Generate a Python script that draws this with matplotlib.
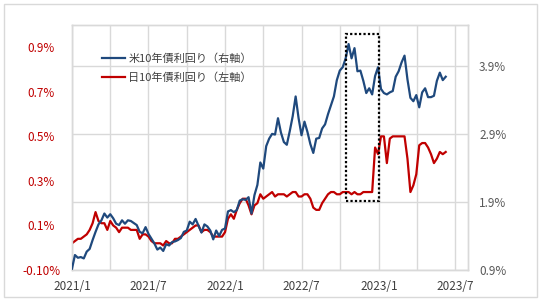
import matplotlib
matplotlib.use('Agg')
import matplotlib.pyplot as plt
import matplotlib.dates as mdates
from matplotlib.patches import Rectangle
from matplotlib.lines import Line2D
from matplotlib.transforms import blended_transform_factory
from matplotlib.ticker import FixedLocator, FixedFormatter, FuncFormatter
import pandas as pd

plt.rcParams['font.family'] = ['Noto Sans CJK JP', 'DejaVu Sans']

# ---- data (weekly, Fridays) ----
series_start = '2021-01-01'

us_2021 = [0.92, 1.12, 1.08, 1.09, 1.07, 1.17, 1.21, 1.34, 1.46, 1.57,
           1.63, 1.73, 1.67, 1.72, 1.66, 1.58, 1.56, 1.63, 1.58, 1.63,
           1.62, 1.59, 1.56, 1.46, 1.44, 1.53, 1.43, 1.36, 1.29, 1.20,
           1.23, 1.18, 1.28, 1.26, 1.31, 1.32, 1.34, 1.37, 1.46, 1.48,
           1.61, 1.57, 1.65, 1.55, 1.45, 1.57, 1.54, 1.48, 1.35, 1.48,
           1.40, 1.49, 1.51]
us_2022 = [1.76, 1.78, 1.75, 1.78, 1.92, 1.94, 1.93, 1.97, 1.73, 2.00,
           2.15, 2.48, 2.39, 2.72, 2.83, 2.90, 2.89, 3.13, 2.92, 2.78,
           2.74, 2.94, 3.16, 3.45, 3.13, 2.88, 3.08, 2.93, 2.75, 2.62,
           2.83, 2.84, 2.98, 3.04, 3.19, 3.32, 3.45, 3.69, 3.83, 3.88,
           4.01, 4.22, 4.01, 4.16, 3.82, 3.83, 3.68, 3.50, 3.57, 3.48,
           3.75, 3.88]
us_2023 = [3.56, 3.50, 3.48, 3.51, 3.53, 3.74, 3.82, 3.95, 4.05, 3.70,
           3.43, 3.38, 3.47, 3.29, 3.51, 3.57, 3.44, 3.44, 3.46, 3.68,
           3.80, 3.69, 3.74]

jp_2021 = [0.02, 0.03, 0.04, 0.04, 0.05, 0.06, 0.08, 0.11, 0.16, 0.12,
           0.11, 0.11, 0.08, 0.12, 0.10, 0.09, 0.07, 0.09, 0.09, 0.09,
           0.08, 0.08, 0.08, 0.04, 0.06, 0.06, 0.05, 0.03, 0.02, 0.02,
           0.02, 0.01, 0.03, 0.02, 0.02, 0.04, 0.04, 0.05, 0.06, 0.07,
           0.08, 0.09, 0.10, 0.10, 0.07, 0.08, 0.08, 0.07, 0.05, 0.05,
           0.05, 0.05, 0.07]
jp_2022 = [0.13, 0.15, 0.13, 0.17, 0.20, 0.22, 0.22, 0.19, 0.15, 0.19,
           0.20, 0.24, 0.22, 0.23, 0.24, 0.25, 0.23, 0.24, 0.24, 0.24,
           0.23, 0.24, 0.25, 0.25, 0.23, 0.23, 0.24, 0.24, 0.22, 0.18,
           0.17, 0.17, 0.20, 0.22, 0.24, 0.25, 0.25, 0.24, 0.24, 0.25,
           0.25, 0.25, 0.24, 0.25, 0.24, 0.24, 0.25, 0.25, 0.25, 0.25,
           0.45, 0.42]
jp_2023 = [0.50, 0.50, 0.38, 0.49, 0.50, 0.50, 0.50, 0.50, 0.50, 0.40,
           0.25, 0.28, 0.33, 0.46, 0.47, 0.47, 0.45, 0.42, 0.38, 0.40,
           0.43, 0.42, 0.43]

us_label = '米10年債利回り（右軸）'
jp_label = '日10年債利回り（左軸）'

left_ticks = [-0.1, 0.1, 0.3, 0.5, 0.7, 0.9]
left_ticklabels = ['-0.10%', '0.1%', '0.3%', '0.5%', '0.7%', '0.9%']
right_ticks = [0.9, 1.9, 2.9, 3.9]
right_ticklabels = ['0.9%', '1.9%', '2.9%', '3.9%']

x_min, x_max = '2021-01-01', '2023-08-01'
left_lim = (-0.1, 1.0)
right_lim = (0.9, 4.5)

# highlighted period (dotted box, right-axis units)
box_start, box_end = '2022-10-15', '2023-01-01'
box_low, box_high = 1.92, 4.37

# ---- build ----
us = us_2021 + us_2022 + us_2023
jp = jp_2021 + jp_2022 + jp_2023
us_dates = pd.date_range(series_start, periods=len(us), freq='W-FRI')
jp_dates = pd.date_range(series_start, periods=len(jp), freq='W-FRI')

blue = '#1F497D'
red = '#C00000'
grid_c = '#D9D9D9'

fig = plt.figure(figsize=(5.40, 3.01), dpi=100)
ax1 = fig.add_axes([72/540, 1-270/301, 396/540, 245/301])
ax2 = ax1.twinx()

ax1.set_xlim(pd.Timestamp(x_min), pd.Timestamp(x_max))
ax1.set_ylim(*left_lim)
ax2.set_ylim(*right_lim)

# grid
ax1.xaxis.set_major_locator(mdates.MonthLocator(bymonth=(1, 7)))
ax1.xaxis.set_minor_locator(mdates.MonthLocator(bymonth=(1, 4, 7, 10)))
ax1.xaxis.set_major_formatter(FuncFormatter(
    lambda v, p: f"{mdates.num2date(v).year}/{mdates.num2date(v).month}"))
ax1.grid(which='minor', axis='x', color=grid_c, lw=1.0)
ax1.grid(which='major', axis='x', color=grid_c, lw=1.0)
ax1.set_axisbelow(True)
btf = blended_transform_factory(ax1.transAxes, ax2.transData)
for v in right_ticks:
    ax1.plot([0, 1], [v, v], transform=btf, color=grid_c, lw=1.0, zorder=0.5)

ax1.plot(jp_dates, jp, color=red, lw=1.6, zorder=3)
ax2.plot(us_dates, us, color=blue, lw=1.6, zorder=3)

ax2.add_patch(Rectangle((mdates.date2num(pd.Timestamp(box_start)), box_low),
                        mdates.date2num(pd.Timestamp(box_end)) - mdates.date2num(pd.Timestamp(box_start)),
                        box_high - box_low, fill=False, edgecolor='black',
                        lw=1.6, linestyle=(0, (1, 1)), zorder=4))

# ticks
ax1.yaxis.set_major_locator(FixedLocator(left_ticks))
ax1.yaxis.set_major_formatter(FixedFormatter(left_ticklabels))
ax2.yaxis.set_major_locator(FixedLocator(right_ticks))
ax2.yaxis.set_major_formatter(FixedFormatter(right_ticklabels))

ax1.tick_params(axis='y', length=0, pad=22, labelsize=8.5, labelcolor=red)
for t in ax1.get_yticklabels():
    t.set_horizontalalignment('center')
ax2.tick_params(axis='y', length=0, pad=8, labelsize=8.5, labelcolor='#595959')
ax1.tick_params(axis='x', which='both', length=0, pad=7, labelsize=8.5, labelcolor='#404040')

for ax in (ax1, ax2):
    for s in ax.spines.values():
        s.set_color(grid_c)
        s.set_linewidth(1.0)

# legend
handles = [Line2D([], [], color=blue, lw=1.6), Line2D([], [], color=red, lw=1.6)]
leg = ax1.legend(handles, [us_label, jp_label], loc='upper left',
                 bbox_to_anchor=(0.076, 0.885), frameon=False, fontsize=8,
                 handlelength=2.1, handletextpad=0.25, labelspacing=0.75,
                 borderpad=0, borderaxespad=0)
for t in leg.get_texts():
    t.set_color('#404040')
leg.set_zorder(5)

# chart border
fig.patches.append(Rectangle((4/540, 4/301), 533/540, 293/301, transform=fig.transFigure,
                             fill=False, edgecolor=grid_c, lw=1.0))

fig.savefig('out.png', dpi=100)
